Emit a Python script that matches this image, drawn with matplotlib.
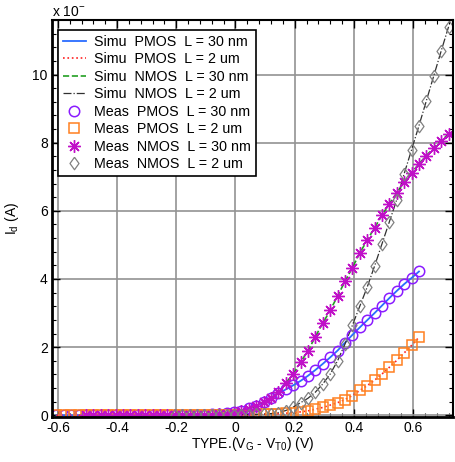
import matplotlib
matplotlib.use("Agg")
import matplotlib.pyplot as plt
from matplotlib.ticker import MultipleLocator

plt.rcParams['font.family'] = ['Liberation Sans', 'DejaVu Sans']
plt.rcParams['axes.unicode_minus'] = False
plt.rcParams['mathtext.fontset'] = 'custom'
plt.rcParams['mathtext.rm'] = 'Liberation Sans'

# gate sweep, TYPE.(VG - VT0) in volts
vg = [-0.605, -0.58, -0.555, -0.53, -0.505, -0.48, -0.455, -0.43, -0.405, -0.38,
      -0.355, -0.33, -0.305, -0.28, -0.255, -0.23, -0.205, -0.18, -0.155, -0.13,
      -0.105, -0.08, -0.055, -0.03, -0.005, 0.02, 0.045, 0.07, 0.095, 0.12,
      0.145, 0.17, 0.195, 0.22, 0.245, 0.27, 0.295, 0.32, 0.345, 0.37,
      0.395, 0.42, 0.445, 0.47, 0.495, 0.52, 0.545, 0.57, 0.595, 0.62,
      0.645, 0.67, 0.695, 0.72]

v_pmos = vg[:50]
v_nmos30 = vg[4:]
v_nmos2 = vg[16:]

id_pmos30 = [0.0, 0.0, 0.0, 0.0, 0.0, 0.0, 0.0, 0.0, 0.0, 0.0,
             0.0, 0.0, 0.0, 0.0, 0.0, 0.002, 0.003, 0.005, 0.008, 0.012,
             0.018, 0.027, 0.04, 0.06, 0.09, 0.14, 0.20, 0.28, 0.39, 0.52,
             0.64, 0.76, 0.88, 1.01, 1.16, 1.33, 1.51, 1.70, 1.90, 2.13,
             2.36, 2.58, 2.79, 3.00, 3.22, 3.44, 3.65, 3.85, 4.03, 4.22]

id_pmos2 = [0.0, 0.0, 0.0, 0.0, 0.0, 0.0, 0.0, 0.0, 0.0, 0.0,
            0.0, 0.0, 0.0, 0.0, 0.0, 0.0, 0.0, 0.0, 0.001, 0.002,
            0.003, 0.004, 0.005, 0.007, 0.008, 0.01, 0.015, 0.02, 0.03, 0.035,
            0.045, 0.06, 0.08, 0.10, 0.13, 0.18, 0.23, 0.30, 0.37, 0.46,
            0.58, 0.73, 0.87, 1.03, 1.21, 1.41, 1.61, 1.83, 2.05, 2.29]

id_nmos30 = [0.0, 0.0, 0.0, 0.0, 0.0, 0.0, 0.0, 0.0, 0.0, 0.0,
             0.0, 0.002, 0.003, 0.004, 0.006, 0.009, 0.014, 0.02, 0.03, 0.05,
             0.08, 0.12, 0.18, 0.27, 0.38, 0.50, 0.68, 0.95, 1.21, 1.56,
             1.89, 2.31, 2.70, 3.08, 3.50, 3.93, 4.33, 4.76, 5.14, 5.50,
             5.87, 6.21, 6.53, 6.84, 7.12, 7.38, 7.62, 7.85, 8.05, 8.26]

id_nmos2 = [0.0, 0.0, 0.001, 0.002, 0.003, 0.004, 0.006, 0.009, 0.012, 0.016,
            0.02, 0.03, 0.04, 0.05, 0.08, 0.14, 0.24, 0.37, 0.50, 0.68,
            0.92, 1.21, 1.60, 2.09, 2.64, 3.20, 3.76, 4.38, 5.03, 5.68,
            6.33, 7.09, 7.79, 8.50, 9.23, 9.96, 10.69, 11.40]

# diamond a bit taller than wide, like the original marker
diamond = [(0, 1), (0.72, 0), (0, -1), (-0.72, 0), (0, 1)]

fig = plt.figure(figsize=(4.55, 4.62), dpi=100)
ax = fig.add_axes([52 / 455, 45 / 462, 401 / 455, 397 / 462])

# simulated curves
ax.plot(v_pmos, id_pmos30, color='#2a6cff', lw=1.3, label='Simu  PMOS  L = 30 nm')
ax.plot(v_pmos, id_pmos2, color='#ff2020', lw=1.2, ls=':', label='Simu  PMOS  L = 2 um')
ax.plot(v_nmos30, id_nmos30, color='#22a022', lw=1.2, ls='--', label='Simu  NMOS  L = 30 nm')
ax.plot(v_nmos2, id_nmos2, color='#303030', lw=0.9, ls='-.', label='Simu  NMOS  L = 2 um')

# measured points
ax.plot(v_pmos, id_pmos30, ls='none', marker='o', ms=7.5, mfc='none', mec='#8a1cff', mew=1.1,
        label='Meas  PMOS  L = 30 nm')
ax.plot(v_pmos, id_pmos2, ls='none', marker='s', ms=6.5, mfc='none', mec='#ff8020', mew=1.1,
        label='Meas  PMOS  L = 2 um')
ax.plot(v_nmos30, id_nmos30, ls='none', marker=(8, 2, 0), ms=9, mec='#c010c8', mew=1.0,
        label='Meas  NMOS  L = 30 nm')
ax.plot(v_nmos2, id_nmos2, ls='none', marker=diamond, ms=9, mfc='none', mec='#808080', mew=0.9,
        label='Meas  NMOS  L = 2 um')

ax.set_xlim(-0.62, 0.735)
ax.set_ylim(-0.05, 11.6)
ax.xaxis.set_major_locator(MultipleLocator(0.2))
ax.xaxis.set_minor_locator(MultipleLocator(0.04))
ax.yaxis.set_major_locator(MultipleLocator(2))
ax.yaxis.set_minor_locator(MultipleLocator(0.4))
ax.xaxis.set_major_formatter(plt.FuncFormatter(lambda v, p: f"{v:.1f}".replace("-0.0", "0").replace("0.0", "0")))
ax.tick_params(which='both', direction='in', top=True, right=True, labelsize=10, pad=3)
ax.tick_params(which='major', length=6, width=1)
ax.tick_params(which='minor', length=3, width=0.8)
ax.grid(True, which='major', color='#929292', lw=1.2)
ax.set_axisbelow(True)

for side in ['left', 'bottom']:
    ax.spines[side].set_linewidth(2)
for side in ['top', 'right']:
    ax.spines[side].set_linewidth(1.5)

ax.set_xlabel(r"TYPE.(V$_\mathregular{G}$ - V$_\mathregular{T0}$) (V)", fontsize=10, labelpad=0)
ax.set_ylabel(r"I$_\mathregular{d}$ (A)", fontsize=10, labelpad=8)
fig.text(52 / 455, 1 - 12 / 462, r"x 10$^{-}$", fontsize=10, va='center', ha='left')

leg = ax.legend(loc='upper left', bbox_to_anchor=(6 / 401, 1 - 10 / 397), borderaxespad=0,
                fontsize=10.3, fancybox=False, framealpha=1, edgecolor='black',
                handlelength=1.6, handletextpad=0.55, labelspacing=0.24, borderpad=0.35)
leg.get_frame().set_linewidth(1.2)

fig.savefig('out.png', dpi=100)
